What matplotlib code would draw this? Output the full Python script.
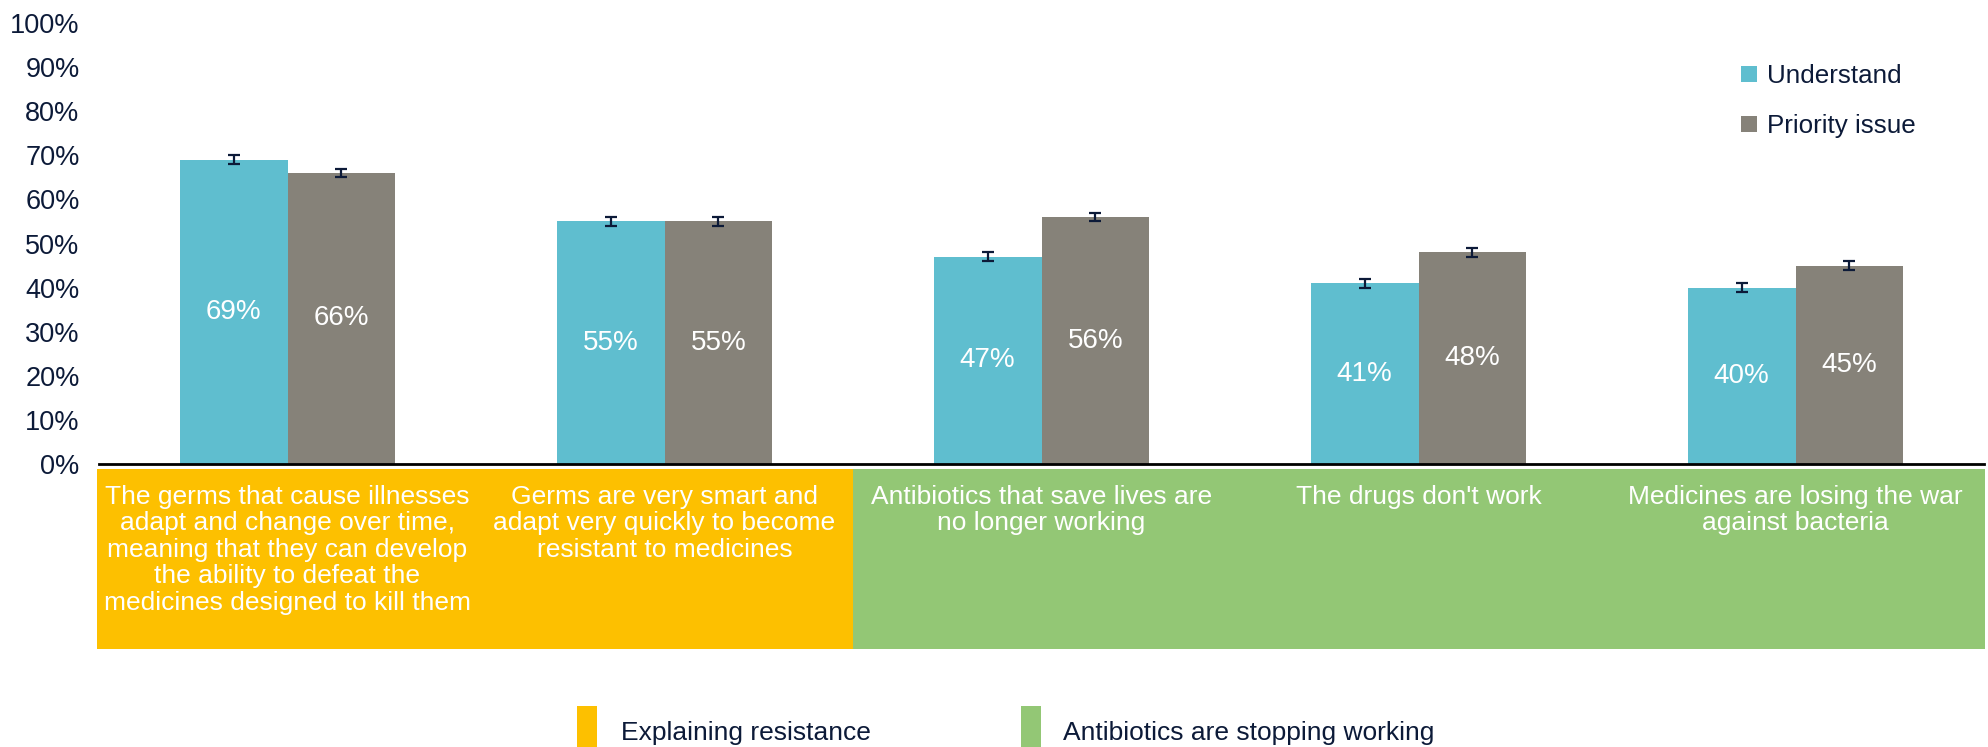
import matplotlib
matplotlib.use("Agg")
import matplotlib.pyplot as plt
import matplotlib.transforms as mtransforms
from matplotlib.patches import Rectangle
import numpy as np

plt.rcParams['font.family'] = ['Liberation Sans', 'DejaVu Sans']

# data
categories = [
    "The germs that cause illnesses\nadapt and change over time,\nmeaning that they can develop\nthe ability to defeat the\nmedicines designed to kill them",
    "Germs are very smart and\nadapt very quickly to become\nresistant to medicines",
    "Antibiotics that save lives are\nno longer working",
    "The drugs don't work",
    "Medicines are losing the war\nagainst bacteria",
]
understand = [69, 55, 47, 41, 40]
priority = [66, 55, 56, 48, 45]
err = [1, 1, 1, 1, 1]
groups = ["Explaining resistance", "Antibiotics are stopping working"]
group_span = [(0, 1), (2, 4)]

navy = '#0c1a38'
c_und = '#5fbecf'
c_pri = '#868279'
group_cols = ['#fdc000', '#93c775']

fig = plt.figure(figsize=(19.88, 7.47), dpi=100)
ax = fig.add_axes([99/1988, 1-464/747, 1-99/1988-4/1988, (464-23)/747])

x = np.arange(len(categories))
w = 0.286
b1 = ax.bar(x - w/2, understand, w, color=c_und, label='Understand')
b2 = ax.bar(x + w/2, priority, w, color=c_pri, label='Priority issue')
ax.errorbar(x - w/2, understand, yerr=err, fmt='none', ecolor=navy, elinewidth=1.6, capsize=4.5, capthick=1.6)
ax.errorbar(x + w/2, priority, yerr=err, fmt='none', ecolor=navy, elinewidth=1.6, capsize=4.5, capthick=1.6)
ax.bar_label(b1, labels=[f"{v}%" for v in understand], label_type='center', color='white', fontsize=20)
ax.bar_label(b2, labels=[f"{v}%" for v in priority], label_type='center', color='white', fontsize=20)

ax.set_xlim(-0.5, len(categories) - 0.5)
ax.set_ylim(0, 100)
ax.set_yticks(range(0, 101, 10))
ax.set_yticklabels([f"{t}%" for t in range(0, 101, 10)], fontsize=19.5, color=navy)
ax.set_xticks([])
ax.tick_params(axis='y', length=0, pad=14)
for s in ['top', 'right', 'left']:
    ax.spines[s].set_visible(False)
ax.spines['bottom'].set_linewidth(2)
ax.spines['bottom'].set_color('black')

# category band under the axis
trans = mtransforms.blended_transform_factory(ax.transData, ax.transAxes)
band_top = -(469-464)/441
band_bot = -(649-464)/441
for (a, b), col in zip(group_span, group_cols):
    left = a - 0.5 - (0.005 if a == 0 else 0)
    ax.add_patch(Rectangle((left, band_bot), b + 0.5 - left + 0.002, band_top - band_bot,
                           transform=trans, color=col, clip_on=False, lw=0, antialiased=False))
for i, cat in enumerate(categories):
    ax.text(i, -(485-464)/441, cat, transform=trans, ha='center', va='top', color='white',
            fontsize=19, linespacing=1.13)

# top-right legend
fig.legend(handles=[b1, b2], labels=['Understand', 'Priority issue'], loc='upper left',
           bbox_to_anchor=(1741/1988, 1-64/747), frameon=False, fontsize=18.7,
           handlelength=0.6, handleheight=0.6, handletextpad=0.4, labelspacing=1.0,
           borderpad=0, borderaxespad=0, labelcolor=navy)

# bottom group legend
for (gx, tx), g, col in zip([(577, 621), (1021, 1063)], groups, group_cols):
    fig.patches.append(Rectangle((gx/1988, 0), 20/1988, 41/747, transform=fig.transFigure,
                                 color=col, lw=0))
    fig.text(tx/1988, 1-733/747, g, ha='left', va='center', fontsize=19, color=navy)

fig.savefig('out.png', dpi=100)
